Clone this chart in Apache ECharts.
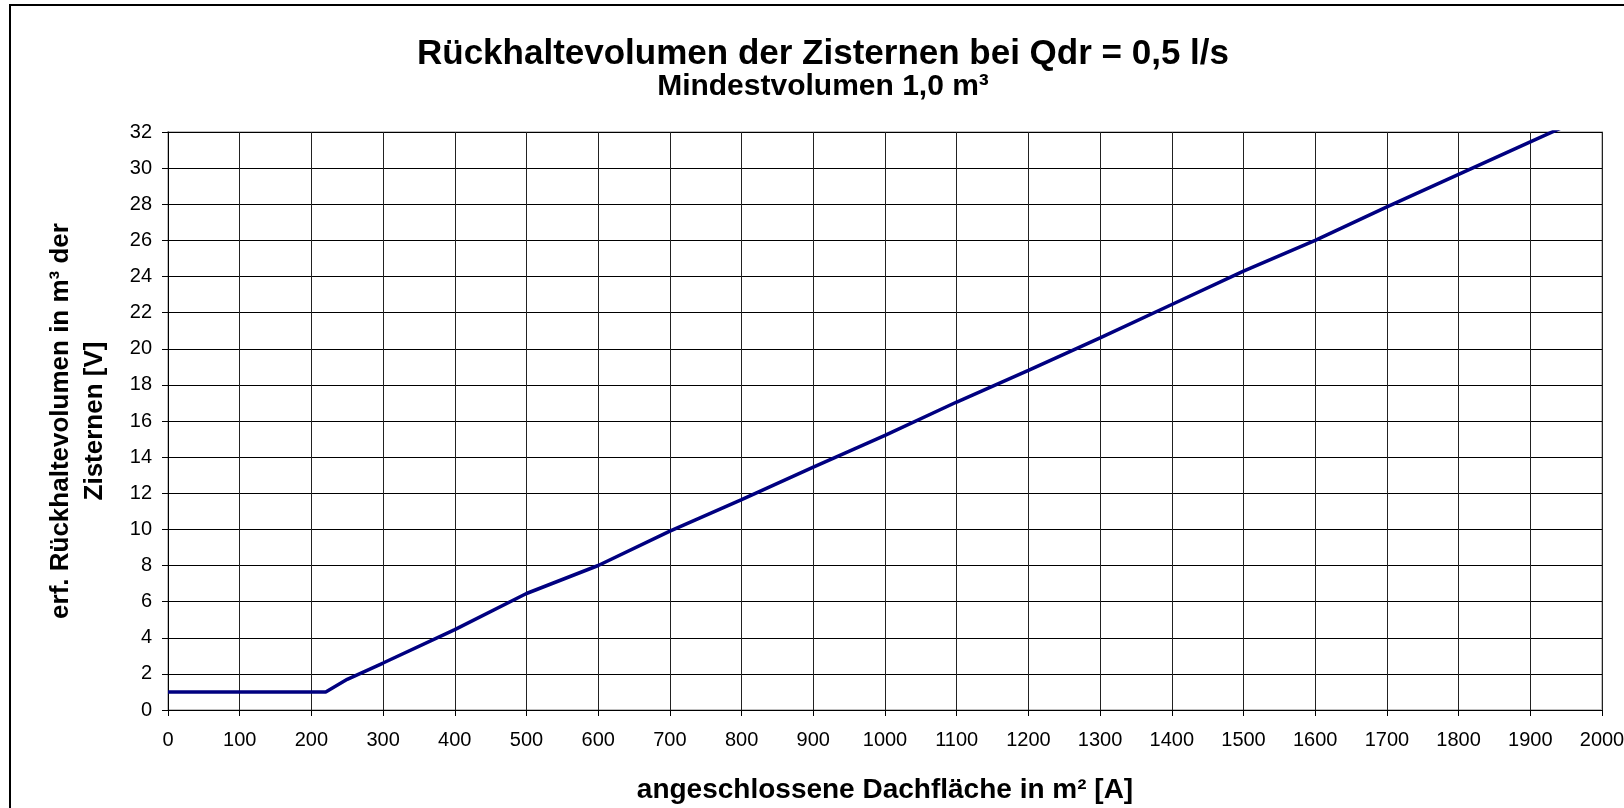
<!DOCTYPE html>
<html>
<head>
<meta charset="utf-8">
<script src="https://cdn.jsdelivr.net/npm/echarts@6/dist/echarts.min.js"></script>
<style>
    html, body { margin: 0; padding: 0; background: #fff; }
    #chart { width: 1624px; height: 808px; }
</style>
</head>
<body>
<div id="chart"></div>
<script>
// Dachfläche [m²] und erforderliches Rückhaltevolumen [m³]
var flaeche = [0, 220, 250, 300, 400, 500, 600, 700, 800, 900, 1000, 1100, 1200, 1300, 1400, 1500, 1600, 1700, 1800, 1900, 2000];
var volumen = [1.0, 1.0, 1.7, 2.6, 4.45, 6.45, 8.0, 9.9, 11.65, 13.45, 15.2, 17.05, 18.8, 20.6, 22.45, 24.3, 26.0, 27.85, 29.65, 31.45, 33.25];

var xTicks = {min: 0, max: 2000, interval: 100};
var yTicks = {min: 0, max: 32, interval: 2};

var font = 'Liberation Sans, Arial, sans-serif';

var chart = echarts.init(document.getElementById('chart'));

var option = {
    backgroundColor: '#fff',
    animation: false,
    title: [
        {
            text: 'Rückhaltevolumen der Zisternen bei Qdr = 0,5 l/s',
            left: 818,
            top: 32,
            textAlign: 'center',
            textStyle: {fontFamily: font, fontSize: 35, fontWeight: 'bold', color: '#000'}
        },
        {
            text: 'Mindestvolumen 1,0 m³',
            left: 818,
            top: 67,
            textAlign: 'center',
            textStyle: {fontFamily: font, fontSize: 30, fontWeight: 'bold', color: '#000'}
        }
    ],
    graphic: [{
        type: 'rect',
        shape: {x: 10, y: 5, width: 2000, height: 2000},
        style: {fill: 'none', stroke: '#000', lineWidth: 2},
        silent: true
    }],
    grid: {
        left: 168,
        right: 22,
        top: 132,
        bottom: 98,
        show: true,
        borderColor: '#c0c0c0',
        borderWidth: 2,
        containLabel: false,
        outerBoundsMode: 'none'
    },
    xAxis: {
        type: 'value',
        min: xTicks.min,
        max: xTicks.max,
        interval: xTicks.interval,
        name: 'angeschlossene Dachfläche in m² [A]',
        nameLocation: 'middle',
        nameGap: 66,
        nameTextStyle: {fontFamily: font, fontSize: 28, fontWeight: 'bold', color: '#000'},
        axisLine: {show: true, lineStyle: {color: '#000', width: 1}},
        axisTick: {show: true, length: 6, lineStyle: {color: '#000'}},
        axisLabel: {
            fontFamily: font, fontSize: 20, color: '#000', margin: 20,
            formatter: function (v) { return String(v); }
        },
        splitLine: {show: true, lineStyle: {color: '#222', width: 1}}
    },
    yAxis: {
        type: 'value',
        min: yTicks.min,
        max: yTicks.max,
        interval: yTicks.interval,
        name: 'erf. Rückhaltevolumen in m³ der\nZisternen [V]',
        nameLocation: 'middle',
        nameGap: 56,
        nameRotate: 90,
        nameTextStyle: {fontFamily: font, fontSize: 26, fontWeight: 'bold', color: '#000', lineHeight: 34, align: 'center'},
        axisLine: {show: true, lineStyle: {color: '#000', width: 1}},
        axisTick: {show: true, length: 6, lineStyle: {color: '#000'}},
        axisLabel: {
            fontFamily: font, fontSize: 20, color: '#000', margin: 16,
            formatter: function (v) { return String(v); }
        },
        splitLine: {show: true, lineStyle: {color: '#000', width: 1}}
    },
    series: [{
        type: 'line',
        data: flaeche.map(function (x, i) { return [x, volumen[i]]; }),
        symbol: 'none',
        clip: true,
        lineStyle: {color: '#000080', width: 3.5},
        z: 5
    }]
};
chart.setOption(option);
</script>
</body>
</html>
